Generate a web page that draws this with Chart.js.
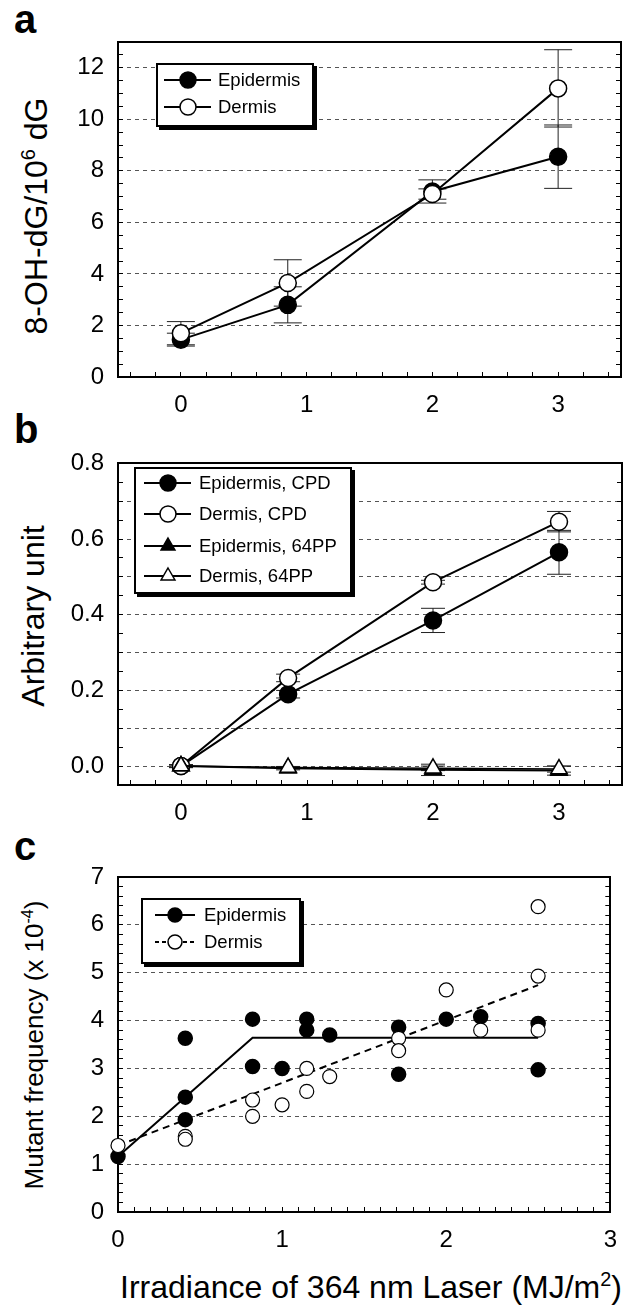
<!DOCTYPE html>
<html>
<head>
<meta charset="utf-8">
<script src="https://cdn.jsdelivr.net/npm/chart.js@4.4.1/dist/chart.umd.min.js"></script>
<style>
html,body{margin:0;padding:0;background:#fff;}
body{width:636px;height:1313px;position:relative;overflow:hidden;font-family:"Liberation Sans",Arial,Helvetica,sans-serif;color:#000;}
.panel{position:absolute;left:0;width:636px;}
.letter{position:absolute;font-weight:bold;font-size:40px;line-height:1;}
.ytitle{position:absolute;white-space:nowrap;line-height:1;transform:translate(-50%,-50%) rotate(-90deg);}
.xtitle{position:absolute;white-space:nowrap;line-height:1;transform:translate(-50%,-50%);}
.sup{font-size:0.62em;position:relative;top:-0.62em;}
.legend{position:absolute;border:2px solid #000;background:#fff;box-shadow:3px 3px 0 #000;box-sizing:border-box;}
.legend .row{position:absolute;left:0;height:20px;white-space:nowrap;}
.legend .row svg{position:absolute;top:0;}
.legend .row span{position:absolute;top:0;line-height:20px;font-size:18.5px;}
</style>
</head>
<body>
<div class="letter" style="left:14px;top:-1px;">a</div>
<div class="letter" style="left:14px;top:409px;">b</div>
<div class="letter" style="left:14px;top:826px;">c</div>

<div class="ytitle" style="left:36px;top:216px;font-size:32px;">8-OH-dG/10<span class="sup">6</span> dG</div>
<div class="ytitle" style="left:33px;top:616px;font-size:32px;">Arbitrary unit</div>
<div class="ytitle" style="left:34px;top:1045px;font-size:26px;">Mutant frequency (x 10<span class="sup">-4</span>)</div>
<div class="xtitle" style="left:371px;top:1287px;font-size:32px;">Irradiance of 364 nm Laser (MJ/m<span class="sup">2</span>)</div>

<div class="panel" style="top:0;height:430px;"><canvas id="cA" width="636" height="430"></canvas></div>
<div class="panel" style="top:430px;height:400px;"><canvas id="cB" width="636" height="400"></canvas></div>
<div class="panel" style="top:830px;height:430px;"><canvas id="cC" width="636" height="430"></canvas></div>

<div id="legA" class="legend"></div>
<div id="legB" class="legend"></div>
<div id="legC" class="legend"></div>

<script>
// ---------- Panel a: 8-OH-dG ----------
const irradianceAB = [0, 0.85, 2, 3];
const aEpidermis = [1.45, 2.8, 7.2, 8.55];
const aEpidermisErr = [0.25, 0.7, 0.45, 1.23];
const aDermis = [1.7, 3.65, 7.1, 11.2];
const aDermisErr = [0.45, 0.9, 0.2, 1.5];
const aYTickLabels = [0, 2, 4, 6, 8, 10, 12];
const abXTickLabels = [0, 1, 2, 3];

// ---------- Panel b: CPD / 64PP ----------
const bEpidermisCPD = [0, 0.19, 0.385, 0.565];
const bEpidermisCPDErr = [0.004, 0.01, 0.032, 0.058];
const bDermisCPD = [0, 0.233, 0.486, 0.646];
const bDermisCPDErr = [0.004, 0.01, 0.005, 0.027];
const bEpidermis64PP = [0, -0.006, -0.01, -0.012];
const bEpidermis64PPErr = [0.003, 0.004, 0.015, 0.012];
const bDermis64PP = [0, -0.004, -0.006, -0.008];
const bDermis64PPErr = [0.003, 0.003, 0.006, 0.008];
const bYTickLabels = [0, 0.2, 0.4, 0.6, 0.8];
const bYGridLines = [0, 0.1, 0.2, 0.3, 0.4, 0.5, 0.6, 0.7];

// ---------- Panel c: mutant frequency ----------
const cEpidermisX = [0, 0.41, 0.41, 0.41, 0.82, 0.82, 1.0, 1.15, 1.15, 1.29, 1.71, 1.71, 2.0, 2.21, 2.56, 2.56];
const cEpidermisY = [1.16, 3.63, 2.40, 1.93, 4.03, 3.04, 3.0, 4.03, 3.80, 3.70, 3.86, 2.88, 4.03, 4.08, 3.94, 2.97];
const cDermisX = [0, 0.41, 0.41, 0.82, 0.82, 1.0, 1.15, 1.15, 1.29, 1.71, 1.71, 2.0, 2.21, 2.56, 2.56, 2.56];
const cDermisY = [1.39, 1.58, 1.52, 2.0, 2.34, 2.24, 3.0, 2.52, 2.83, 3.63, 3.37, 4.64, 3.80, 6.38, 4.93, 3.80];
const cEpidermisFitX = [0, 0.82, 2.56];
const cEpidermisFitY = [1.16, 3.64, 3.64];
const cDermisFitX = [0, 2.56];
const cDermisFitY = [1.39, 4.74];
const cYTickLabels = [0, 1, 2, 3, 4, 5, 6, 7];
const cYGridLines = [1, 2, 3, 4, 5, 6];
const cXTickLabels = [0, 1, 2, 3];

// ---------- helpers ----------
const FONT = '"Liberation Sans", Arial, Helvetica, sans-serif';
Chart.defaults.font.family = FONT;
function range(a, b, s) { const n = Math.round((b - a) / s); const o = []; for (let i = 0; i <= n; i++) o.push(Math.round((a + i * s) * 1e6) / 1e6); return o; }
const has = (arr, v) => arr.some(a => Math.abs(a - v) < 1e-6);

function scalesFor(p) {
  const tickFont = {family: FONT, size: 24};
  return {
    x: {type: 'linear', position: 'bottom', min: p.xMin, max: p.xMax,
      afterBuildTicks: s => { s.ticks = p.xTicks.map(v => ({value: v})); },
      afterFit: s => { s.height = p.H - p.plotBottom; },
      ticks: {autoSkip: false, maxRotation: 0, minRotation: 0, padding: 19, color: '#000', font: tickFont,
        callback: v => has(p.xLabels, v) ? String(Math.round(v)) : ''},
      grid: {display: true, drawOnChartArea: false, drawTicks: true, tickLength: -5, tickColor: '#000', tickWidth: 1, color: '#000'},
      border: {display: true, color: '#000', width: 2}},
    xTop: {type: 'linear', position: 'top', min: p.xMin, max: p.xMax,
      afterFit: s => { s.height = p.plotTop; },
      ticks: {display: false}, grid: {display: false},
      border: {display: true, color: '#000', width: 2}},
    y: {type: 'linear', position: 'left', min: p.yMin, max: p.yMax,
      afterBuildTicks: s => { s.ticks = p.yTicks.map(v => ({value: v})); },
      afterFit: s => { s.width = 118; },
      ticks: {autoSkip: false, padding: 19, color: '#000', font: tickFont,
        callback: v => has(p.yLabels, v) ? p.yFmt(v) : ''},
      grid: {display: true, drawOnChartArea: true, drawTicks: true, tickLength: -5, tickColor: '#000', tickWidth: 1, lineWidth: 1,
        color: c => (c.tick && has(p.yGrid, c.tick.value)) ? '#555' : 'rgba(0,0,0,0)'},
      border: {display: true, color: '#000', width: 2, dash: [4, 4]}},
    yRight: {type: 'linear', position: 'right', min: p.yMin, max: p.yMax,
      afterBuildTicks: s => { s.ticks = p.yTicks.map(v => ({value: v})); },
      afterFit: s => { s.width = 14; },
      ticks: {display: false},
      grid: {display: true, drawOnChartArea: false, drawTicks: true, tickLength: -5, tickColor: '#000', tickWidth: 1, color: '#000'},
      border: {display: true, color: '#000', width: 2}}
  };
}

function seriesDS(label, xs, ys, o) {
  return Object.assign({label, data: xs.map((x, i) => ({x, y: ys[i]})), showLine: true,
    borderColor: '#000', borderWidth: 2, pointRadius: 8.5, pointHoverRadius: 8.5,
    pointBorderColor: '#000', pointBorderWidth: 1.5, pointBackgroundColor: '#000', clip: false}, o);
}
function stemDS(xs, ys, es) {
  const d = []; xs.forEach((x, i) => { d.push({x, y: ys[i] - es[i]}, {x, y: ys[i] + es[i]}, {x, y: null}); });
  return {label: 'err', data: d, showLine: true, spanGaps: false, borderColor: '#222', borderWidth: 1, pointRadius: 0, order: 10, clip: false};
}
function capDS(xs, ys, es, r) {
  const d = []; xs.forEach((x, i) => { d.push({x, y: ys[i] - es[i]}, {x, y: ys[i] + es[i]}); });
  return {label: 'cap', data: d, showLine: false, pointStyle: 'line', pointRadius: r, pointHoverRadius: r,
    pointBorderColor: '#222', pointBorderWidth: 1, order: 10, clip: false};
}
function makeChart(id, p, datasets) {
  return new Chart(document.getElementById(id), {
    type: 'line',
    data: {datasets},
    options: {responsive: false, devicePixelRatio: 1, animation: false, events: [],
      layout: {padding: 0},
      plugins: {legend: {display: false}, tooltip: {enabled: false}},
      scales: scalesFor(p)}
  });
}

// ---------- Panel a ----------
makeChart('cA', {H: 430, plotTop: 42, plotBottom: 377, xMin: -0.5, xMax: 3.5, xTicks: range(-0.4, 3.4, 0.2), xLabels: abXTickLabels,
  yMin: 0, yMax: 13, yTicks: range(0, 13, 0.5), yLabels: aYTickLabels, yGrid: aYTickLabels.filter(v => v > 0), yFmt: v => String(Math.round(v))}, [
  stemDS(irradianceAB, aEpidermis, aEpidermisErr), capDS(irradianceAB, aEpidermis, aEpidermisErr, 14),
  stemDS(irradianceAB, aDermis, aDermisErr), capDS(irradianceAB, aDermis, aDermisErr, 14),
  seriesDS('Epidermis', irradianceAB, aEpidermis, {order: 2}),
  seriesDS('Dermis', irradianceAB, aDermis, {order: 1, pointBackgroundColor: '#fff'})
]);

// ---------- Panel b ----------
makeChart('cB', {H: 400, plotTop: 20, plotBottom: 355, xMin: -0.5, xMax: 3.5, xTicks: range(-0.4, 3.4, 0.2), xLabels: abXTickLabels,
  yMin: -0.05, yMax: 0.8, yTicks: range(-0.05, 0.8, 0.05), yLabels: bYTickLabels, yGrid: bYGridLines, yFmt: v => v.toFixed(1)}, [
  stemDS(irradianceAB, bEpidermisCPD, bEpidermisCPDErr), capDS(irradianceAB, bEpidermisCPD, bEpidermisCPDErr, 12),
  stemDS(irradianceAB, bDermisCPD, bDermisCPDErr), capDS(irradianceAB, bDermisCPD, bDermisCPDErr, 12),
  stemDS(irradianceAB, bEpidermis64PP, bEpidermis64PPErr), capDS(irradianceAB, bEpidermis64PP, bEpidermis64PPErr, 12),
  stemDS(irradianceAB, bDermis64PP, bDermis64PPErr), capDS(irradianceAB, bDermis64PP, bDermis64PPErr, 12),
  seriesDS('Epidermis, CPD', irradianceAB, bEpidermisCPD, {order: 4}),
  seriesDS('Dermis, CPD', irradianceAB, bDermisCPD, {order: 3, pointBackgroundColor: '#fff'}),
  seriesDS('Epidermis, 64PP', irradianceAB, bEpidermis64PP, {order: 2, pointStyle: 'triangle', pointRadius: 9.5, pointHoverRadius: 9.5}),
  seriesDS('Dermis, 64PP', irradianceAB, bDermis64PP, {order: 1, pointStyle: 'triangle', pointRadius: 9.5, pointHoverRadius: 9.5, pointBackgroundColor: '#fff', borderWidth: 1.5})
]);

// ---------- Panel c ----------
makeChart('cC', {H: 430, plotTop: 47, plotBottom: 382, xMin: 0, xMax: 3, xTicks: range(0, 3, 0.1), xLabels: cXTickLabels,
  yMin: 0, yMax: 7, yTicks: range(0, 7, 0.2), yLabels: cYTickLabels, yGrid: cYGridLines, yFmt: v => String(Math.round(v))}, [
  seriesDS('Epidermis fit', cEpidermisFitX, cEpidermisFitY, {pointRadius: 0, order: 5}),
  seriesDS('Dermis fit', cDermisFitX, cDermisFitY, {pointRadius: 0, order: 5, borderDash: [7, 5]}),
  seriesDS('Epidermis', cEpidermisX, cEpidermisY, {showLine: false, pointRadius: 7, pointHoverRadius: 7, order: 2}),
  seriesDS('Dermis', cDermisX, cDermisY, {showLine: false, pointRadius: 7, pointHoverRadius: 7, pointBackgroundColor: '#fff', pointBorderWidth: 1.2, order: 1})
]);

// ---------- HTML legends ----------
function sample(w, cx, dash, marker, fill, r) {
  let m;
  if (marker === 'circle') m = `<circle cx="${cx}" cy="10" r="${r}" fill="${fill}" stroke="#000" stroke-width="1.5"/>`;
  else m = `<polygon points="${cx},${10 - r} ${cx + r * 0.866},${10 + r * 0.5} ${cx - r * 0.866},${10 + r * 0.5}" fill="${fill}" stroke="#000" stroke-width="1.5"/>`;
  return `<svg width="${w}" height="20" style="left:0"><line x1="0" y1="10" x2="${w}" y2="10" stroke="#000" stroke-width="2" ${dash ? 'stroke-dasharray="4,3"' : ''}/>${m}</svg>`;
}
function buildLegend(id, box, rows) {
  const el = document.getElementById(id);
  Object.assign(el.style, {left: box.left + 'px', top: box.top + 'px', width: box.width + 'px', height: box.height + 'px'});
  el.innerHTML = rows.map(r => `<div class="row" style="top:${r.cy - 10}px;left:${box.sx}px;width:${box.width - box.sx - 4}px">` +
    sample(box.sw, box.mx, r.dash, r.marker, r.fill, box.r) +
    `<span style="left:${box.tx}px">${r.label}</span></div>`).join('');
}
buildLegend('legA', {left: 156, top: 63, width: 158, height: 64, sx: 6, sw: 47, mx: 24, tx: 54, r: 8}, [
  {label: 'Epidermis', marker: 'circle', fill: '#000', cy: 15},
  {label: 'Dermis', marker: 'circle', fill: '#fff', cy: 42}
]);
buildLegend('legB', {left: 134, top: 467, width: 218, height: 127, sx: 8, sw: 47, mx: 24, tx: 55, r: 8}, [
  {label: 'Epidermis, CPD', marker: 'circle', fill: '#000', cy: 14},
  {label: 'Dermis, CPD', marker: 'circle', fill: '#fff', cy: 45},
  {label: 'Epidermis, 64PP', marker: 'triangle', fill: '#000', cy: 77},
  {label: 'Dermis, 64PP', marker: 'triangle', fill: '#fff', cy: 107}
]);
buildLegend('legC', {left: 141, top: 898, width: 160, height: 66, sx: 12, sw: 40, mx: 20, tx: 49, r: 7}, [
  {label: 'Epidermis', marker: 'circle', fill: '#000', dash: false, cy: 15},
  {label: 'Dermis', marker: 'circle', fill: '#fff', dash: true, cy: 42}
]);
</script>
</body>
</html>
